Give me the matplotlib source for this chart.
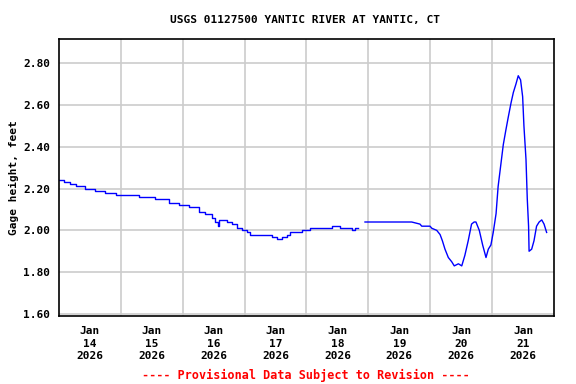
import numpy as np
import matplotlib.pyplot as plt

# hours since Jan 14 2026 00:00, gage height in feet
hours_a = [0.0, 1.9, 4.5, 6.5, 10.3, 14.2, 18.1, 22.0, 25.8, 31.0, 37.4, 41.3,
           42.6, 46.5, 50.3, 54.2, 56.8, 59.4, 60.4, 60.7, 61.6, 62.3, 63.3,
           65.2, 67.1, 69.1, 71.0, 72.9, 74.2, 76.8, 80.7, 82.6, 84.6, 86.5,
           88.4, 89.7, 92.3, 94.2, 96.2, 97.4, 103.9, 105.8, 107.8, 109.1,
           112.3, 113.6, 114.9, 115.8]
height_a = [2.24, 2.23, 2.22, 2.21, 2.20, 2.19, 2.18, 2.17, 2.17, 2.16, 2.15,
            2.15, 2.13, 2.12, 2.11, 2.09, 2.08, 2.06, 2.05, 2.04, 2.02, 2.05,
            2.05, 2.04, 2.03, 2.01, 2.00, 1.99, 1.98, 1.98, 1.98, 1.97, 1.96,
            1.97, 1.98, 1.99, 1.99, 2.00, 2.00, 2.01, 2.01, 2.02, 2.02, 2.01,
            2.01, 2.00, 2.01, 2.01]

hours_b = [118.7, 123.9, 130.4, 136.8, 140.0, 140.7, 143.9, 144.6, 146.5,
           147.8, 148.7, 149.7, 151.0, 152.3, 153.3, 154.9, 156.2, 157.4,
           158.7, 160.0, 161.0, 161.7, 163.0, 164.3, 165.6, 166.5, 167.5,
           168.4, 169.5, 170.3, 171.4, 172.3, 173.3, 174.2, 175.3, 176.2,
           177.2, 178.1, 179.0, 179.8, 180.3, 181.1, 181.6, 182.1, 182.3,
           183.3, 184.2, 185.2, 186.2, 187.2, 188.1, 189.1]
height_b = [2.04, 2.04, 2.04, 2.04, 2.03, 2.02, 2.02, 2.01, 2.00, 1.98, 1.95,
            1.91, 1.87, 1.85, 1.83, 1.84, 1.83, 1.88, 1.95, 2.03, 2.04, 2.04,
            2.00, 1.93, 1.87, 1.91, 1.93, 1.99, 2.08, 2.21, 2.32, 2.41, 2.48,
            2.54, 2.61, 2.66, 2.70, 2.74, 2.72, 2.64, 2.50, 2.34, 2.15, 2.02,
            1.90, 1.91, 1.95, 2.02, 2.04, 2.05, 2.03, 1.99]

days = ['14', '15', '16', '17', '18', '19', '20', '21']
xlabels = ['Jan\n' + d + '\n2026' for d in days]
yticks = [1.60, 1.80, 2.00, 2.20, 2.40, 2.60, 2.80]

font = 'DejaVu Sans Mono'
fig = plt.figure(figsize=(5.76, 3.84), dpi=100)
ax = fig.add_axes([0.102, 0.177, 0.860, 0.721])

# stepped look like the 0.01 ft gage readings
ax.plot(hours_a, height_a, color='#0000ff', lw=1.0, drawstyle='steps-post')
ax.plot(hours_b, height_b, color='#0000ff', lw=1.0)

ax.set_xlim(0, 192)
ax.set_ylim(1.59, 2.915)

ax.set_xticks([12 + 24 * i for i in range(8)])
ax.set_xticklabels(xlabels, fontfamily=font, fontweight='bold', fontsize=8,
                   linespacing=1.35)
ax.set_xticks([24 * i for i in range(1, 8)], minor=True)
ax.set_yticks(yticks)
ax.set_yticklabels(['%.2f' % v for v in yticks], fontfamily=font,
                   fontweight='bold', fontsize=8)

ax.grid(False)
ax.xaxis.grid(True, which='minor', color='#cccccc', lw=1.2)
ax.yaxis.grid(True, which='major', color='#cccccc', lw=1.2)
ax.set_axisbelow(True)
ax.tick_params(axis='x', which='both', length=0, pad=7)
ax.tick_params(axis='y', which='both', length=0, pad=6)

for s in ax.spines.values():
    s.set_linewidth(1.2)

ax.set_ylabel('Gage height, feet', fontfamily=font, fontweight='bold',
              fontsize=8, labelpad=3.5)
fig.text(0.53, 0.947, 'USGS 01127500 YANTIC RIVER AT YANTIC, CT',
         ha='center', va='center', fontfamily=font, fontweight='bold',
         fontsize=8)
fig.text(0.531, 0.022, '---- Provisional Data Subject to Revision ----',
         ha='center', va='center', fontfamily=font, fontweight='bold',
         fontsize=8.5, color='#ff0000')

fig.savefig('out.png', dpi=100)
